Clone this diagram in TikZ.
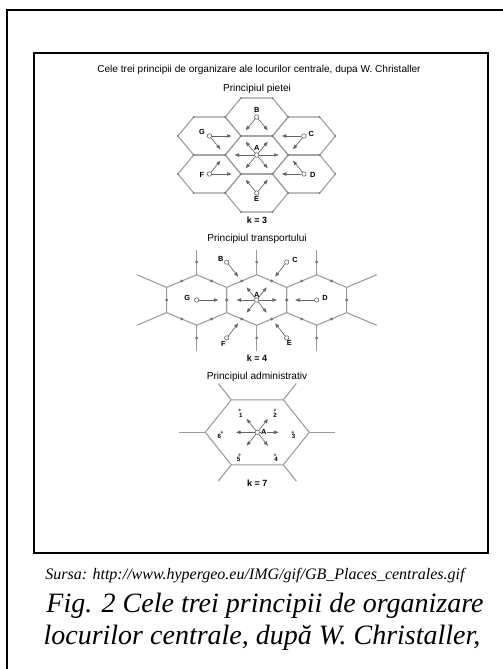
\documentclass[tikz,border=0pt]{standalone}
\usepackage{fontspec}
\setmainfont{Liberation Serif}
\newfontfamily\arialf{Liberation Sans}
\usetikzlibrary{arrows.meta,calc}
\definecolor{hexgray}{RGB}{155,155,155}
\definecolor{arrgray}{RGB}{100,100,100}
\definecolor{dotgray}{RGB}{120,120,120}
\begin{document}
\begin{tikzpicture}[x=1pt,y=-1pt,
  hexline/.style={draw=hexgray,line width=1.05pt,line join=round},
  frame/.style={draw=black,line width=2pt},
  arr/.style={draw=arrgray,line width=0.65pt,-{Triangle[length=4.5pt,width=3.4pt]}},
  place/.style={circle,draw=arrgray,fill=white,line width=0.6pt,inner sep=0pt,minimum size=4.4pt},
  sat/.style={circle,fill=dotgray,inner sep=0pt,minimum size=2.8pt},
  lab/.style={font=\arialf\bfseries\fontsize{7.4}{7.4}\selectfont,inner sep=0pt},
  numlab/.style={font=\arialf\bfseries\fontsize{6.2}{6.2}\selectfont,inner sep=0pt},
  ttl/.style={font=\arialf\fontsize{10.1}{12}\selectfont,inner sep=0pt},
  klab/.style={font=\arialf\bfseries\fontsize{9}{10}\selectfont,inner sep=0pt},
  capsmall/.style={font=\itshape\fontsize{16}{19}\selectfont,inner sep=0pt},
  capbig/.style={font=\itshape\fontsize{28}{32}\selectfont,inner sep=0pt},
]
\useasboundingbox (0,0) rectangle (503,669);
\fill[white] (0,0) rectangle (503,669);
% frames
\draw[frame] (7,669) -- (7,10) -- (503,10);
\draw[frame] (34,53) rectangle (488,553);

% titles
\node[ttl] (title) at (259,70) {Cele trei principii de organizare ale locurilor centrale, dupa W. Christaller};
\node[ttl] (t1) at (257,89) {Principiul pietei};
\node[klab] (k3) at (257,220) {k = 3};
\node[ttl] (t2) at (257,238.5) {Principiul transportului};
\node[klab] (k4) at (257,358.3) {k = 4};
\node[ttl] (t3) at (257,376.5) {Principiul administrativ};
\node[klab] (k7) at (257.3,483.5) {k = 7};

% ---------------- k = 3 ----------------
\begin{scope}[shift={(256.7,155)}]
\def\hR{31.5}\def\hH{19}
\foreach \cx/\cy in {0/0,0/-2,0/2,-1.5/-1,1.5/-1,-1.5/1,1.5/1}{
  \draw[hexline] ({\cx*\hR+\hR},{\cy*\hH}) -- ({\cx*\hR+\hR/2},{\cy*\hH+\hH}) -- ({\cx*\hR-\hR/2},{\cy*\hH+\hH}) -- ({\cx*\hR-\hR},{\cy*\hH}) -- ({\cx*\hR-\hR/2},{\cy*\hH-\hH}) -- ({\cx*\hR+\hR/2},{\cy*\hH-\hH}) -- cycle;
  \foreach \vx/\vy in {1/0,0.5/1,-0.5/1,-1/0,-0.5/-1,0.5/-1}
    \fill[dotgray] ({\cx*\hR+\vx*\hR},{\cy*\hH+\vy*\hH}) circle (1pt);
}
\coordinate (k3v0) at (\hR,0);
\coordinate (k3v1) at ({\hR/2},\hH);
\coordinate (k3v2) at ({-\hR/2},\hH);
\coordinate (k3v3) at (-\hR,0);
\coordinate (k3v4) at ({-\hR/2},-\hH);
\coordinate (k3v5) at ({\hR/2},-\hH);
\node[place] (k3A) at (0,0) {};
\node[place] (k3B) at (0,{-2*\hH}) {};
\node[place] (k3E) at (0,{2*\hH}) {};
\node[place] (k3G) at ({-1.5*\hR},-\hH) {};
\node[place] (k3C) at ({1.5*\hR},-\hH) {};
\node[place] (k3F) at ({-1.5*\hR},\hH) {};
\node[place] (k3D) at ({1.5*\hR},\hH) {};
\foreach \v in {0,...,5} \draw[arr] (k3A) -- ($(k3A)!0.7!(k3v\v)$);
\draw[arr] (k3B) -- ($(k3B)!0.7!(k3v4)$);
\draw[arr] (k3B) -- ($(k3B)!0.7!(k3v5)$);
\draw[arr] (k3E) -- ($(k3E)!0.7!(k3v1)$);
\draw[arr] (k3E) -- ($(k3E)!0.7!(k3v2)$);
\draw[arr] (k3G) -- ($(k3G)!0.7!(k3v4)$);
\draw[arr] (k3G) -- ($(k3G)!0.7!(k3v3)$);
\draw[arr] (k3C) -- ($(k3C)!0.7!(k3v5)$);
\draw[arr] (k3C) -- ($(k3C)!0.7!(k3v0)$);
\draw[arr] (k3F) -- ($(k3F)!0.7!(k3v2)$);
\draw[arr] (k3F) -- ($(k3F)!0.7!(k3v3)$);
\draw[arr] (k3D) -- ($(k3D)!0.7!(k3v1)$);
\draw[arr] (k3D) -- ($(k3D)!0.7!(k3v0)$);
\node[lab] (k3Al) at (0,-6.8) {A};
\node[lab] (k3Bl) at (0,-44.8) {B};
\node[lab] (k3El) at (0,43.8) {E};
\node[lab] (k3Gl) at (-54.7,-23.5) {G};
\node[lab] (k3Cl) at (54.7,-21) {C};
\node[lab] (k3Fl) at (-54.7,20) {F};
\node[lab] (k3Dl) at (56,20) {D};
\end{scope}

% ---------------- k = 4 ----------------
\begin{scope}[shift={(256.7,300)}]
\def\qw{30}\def\qs{12.6}\def\qt{25.3}
\foreach \xo in {-60,0,60}{
  \draw[hexline] (\xo,-\qt) -- ({\xo+\qw},-\qs) -- ({\xo+\qw},\qs) -- (\xo,\qt) -- ({\xo-\qw},\qs) -- ({\xo-\qw},-\qs) -- cycle;
  \draw[hexline] (\xo,-\qt) -- (\xo,{-\qt-2*\qs});
  \draw[hexline] (\xo,\qt) -- (\xo,{\qt+2*\qs});
}
\draw[hexline] (-90,-\qs) -- (-120,-\qt);
\draw[hexline] (-90,\qs) -- (-120,\qt);
\draw[hexline] (90,-\qs) -- (120,-\qt);
\draw[hexline] (90,\qs) -- (120,\qt);
\foreach \xo in {-60,0,60}{
  \foreach \mx/\my in {0.5/-0.5,1/0,0.5/0.5,-0.5/0.5,-1/0,-0.5/-0.5}
    \fill[dotgray] ({\xo+\mx*\qw},{\my*(\qt+\qs)}) circle (1.6pt);
  \fill[dotgray] (\xo,{-\qt-\qs}) circle (1.6pt);
  \fill[dotgray] (\xo,{\qt+\qs}) circle (1.6pt);
}
\coordinate (k4m0) at (\qw,0);
\coordinate (k4m1) at ({\qw/2},{(\qt+\qs)/2});
\coordinate (k4m2) at ({-\qw/2},{(\qt+\qs)/2});
\coordinate (k4m3) at (-\qw,0);
\coordinate (k4m4) at ({-\qw/2},{-(\qt+\qs)/2});
\coordinate (k4m5) at ({\qw/2},{-(\qt+\qs)/2});
\node[place] (k4A) at (0,0) {};
\node[place] (k4G) at (-60,0) {};
\node[place] (k4D) at (60,0) {};
\node[place] (k4B) at (-30,{-(\qt+\qs)}) {};
\node[place] (k4C) at (30,{-(\qt+\qs)}) {};
\node[place] (k4F) at (-30,{\qt+\qs}) {};
\node[place] (k4E) at (30,{\qt+\qs}) {};
\foreach \v in {0,...,5} \draw[arr] (k4A) -- ($(k4A)!0.67!(k4m\v)$);
\draw[arr] (k4G) -- ($(k4G)!0.72!(k4m3)$);
\draw[arr] (k4D) -- ($(k4D)!0.72!(k4m0)$);
\draw[arr] (k4B) -- ($(k4B)!0.77!(k4m4)$);
\draw[arr] (k4C) -- ($(k4C)!0.77!(k4m5)$);
\draw[arr] (k4F) -- ($(k4F)!0.77!(k4m2)$);
\draw[arr] (k4E) -- ($(k4E)!0.77!(k4m1)$);
\node[lab] (k4Al) at (0,-5.5) {A};
\node[lab] (k4Bl) at (-36,-41.5) {B};
\node[lab] (k4Cl) at (38.3,-40) {C};
\node[lab] (k4Gl) at (-69.4,-2.3) {G};
\node[lab] (k4Dl) at (68.3,-2.3) {D};
\node[lab] (k4Fl) at (-33.4,44.3) {F};
\node[lab] (k4El) at (32.6,43.3) {E};
\end{scope}

% ---------------- k = 7 ----------------
\begin{scope}[shift={(257.3,432.3)}]
\def\aR{52}\def\aH{32.5}
\draw[hexline] (\aR,0) -- ({\aR/2},\aH) -- ({-\aR/2},\aH) -- (-\aR,0) -- ({-\aR/2},-\aH) -- ({\aR/2},-\aH) -- cycle;
\draw[hexline] (\aR,0) -- ({1.5*\aR},0);
\draw[hexline] (-\aR,0) -- ({-1.5*\aR},0);
\draw[hexline] ({\aR/2},-\aH) -- ({0.75*\aR},{-1.5*\aH});
\draw[hexline] ({-\aR/2},-\aH) -- ({-0.75*\aR},{-1.5*\aH});
\draw[hexline] ({\aR/2},\aH) -- ({0.75*\aR},{1.5*\aH});
\draw[hexline] ({-\aR/2},\aH) -- ({-0.75*\aR},{1.5*\aH});
\node[sat] (s1) at (-17.75,-22.4) {};
\node[sat] (s2) at (17.75,-22.4) {};
\node[sat] (s3) at (35.5,0) {};
\node[sat] (s4) at (17.75,22.4) {};
\node[sat] (s5) at (-17.75,22.4) {};
\node[sat] (s6) at (-35.5,0) {};
\node[place] (k7A) at (0,0) {};
\foreach \v in {1,...,6} \draw[arr] (k7A) -- ($(k7A)!0.6!(s\v)$);
\node[lab,fill=white,inner sep=0.4pt] (k7Al) at (6.5,0) {A};
\node[numlab] (n1) at (-16.5,-17) {1};
\node[numlab] (n2) at (17.75,-17) {2};
\node[numlab] (n3) at (36.2,4.3) {3};
\node[numlab] (n4) at (18.75,27.5) {4};
\node[numlab] (n5) at (-18.75,27.5) {5};
\node[numlab] (n6) at (-37.9,4.3) {6};
\end{scope}

% captions
\node[capsmall] (src) at (255,575.5) {Sursa: http://www.hypergeo.eu/IMG/gif/GB\_Places\_centrales.gif};
\node[capbig] (fig1) at (265,606) {Fig. 2 Cele trei principii de organizare};
\node[capbig] (fig2) at (262,638) {locurilor centrale, după W. Christaller,};
\end{tikzpicture}
\end{document}
